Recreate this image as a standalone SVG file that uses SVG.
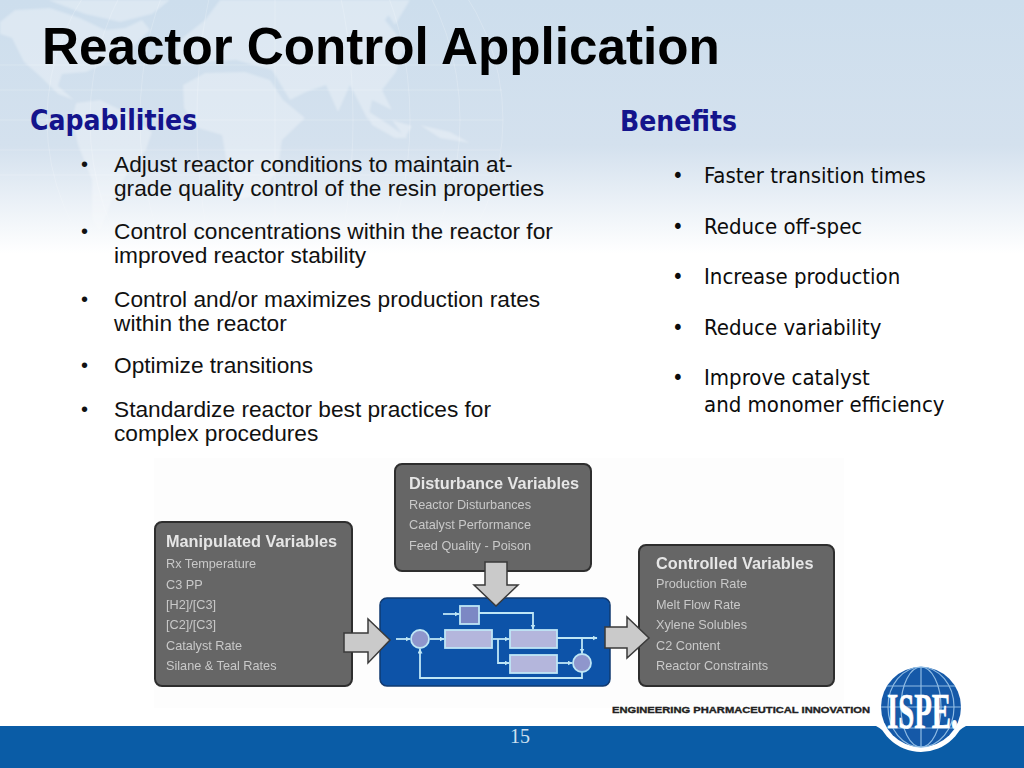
<svg xmlns="http://www.w3.org/2000/svg" width="1024" height="768" viewBox="0 0 1024 768">
<style>
text{font-family:"Liberation Sans",Arial,sans-serif}
.b text{font-size:22.7px;fill:#111}
.b .d{font-size:20px}
.r text{font-family:"DejaVu Sans",sans-serif;font-stretch:condensed;font-size:22px;fill:#0c0c0c}
text.h{font-family:"DejaVu Sans",sans-serif;font-stretch:condensed;font-weight:700;font-size:28px;fill:#14148c}
.box{fill:#666;stroke:#2e2e2e;stroke-width:2}
.bt{font-weight:700;font-size:16.3px;fill:#e6e6e6}
.bi{font-size:12.7px;fill:#c9c9c9}
.arr{fill:#cacaca;stroke:#3a3a3a;stroke-width:1.5}
.ln{fill:none;stroke:#bfe6f5;stroke-width:1.8}
.bl{fill:#b4b6dc;stroke:#bfe6f5;stroke-width:1.8}
.c{fill:#8f96cc;stroke:#bfe6f5;stroke-width:1.8}
</style>
<defs>
<linearGradient id="bg" x1="0" y1="0" x2="0" y2="1"><stop offset="0" stop-color="#cddeed"/><stop offset="0.19" stop-color="#d4e1ee"/><stop offset="0.33" stop-color="#ffffff"/><stop offset="1" stop-color="#ffffff"/></linearGradient>
<linearGradient id="fade" x1="0" y1="0" x2="0" y2="1"><stop offset="0" stop-color="#fff" stop-opacity="1"/><stop offset="0.75" stop-color="#fff" stop-opacity="1"/><stop offset="1" stop-color="#fff" stop-opacity="0"/></linearGradient>
<mask id="mf"><rect width="1024" height="260" fill="url(#fade)"/></mask>
<filter id="s"><feGaussianBlur stdDeviation="0.9"/></filter>
<filter id="t" x="-5%" y="-5%" width="110%" height="110%"><feGaussianBlur stdDeviation="0.35"/></filter>
<marker id="a" markerUnits="userSpaceOnUse" markerWidth="6" markerHeight="6" refX="4.5" refY="2.5" orient="auto"><path d="M0 0L5 2.5L0 5z" fill="#bfe6f5"/></marker>
</defs>
<rect width="1024" height="768" fill="url(#bg)"/>
<g id="map" mask="url(#mf)">
<g fill="#fff" opacity="0.3" filter="url(#s)">
<path d="M0 22L15 10L50 8L80 18L105 30L125 28L142 20L150 30L132 48L108 62L86 72L62 74L58 86L74 100L58 94L42 78L24 62L12 38L0 34z"/>
<path d="M48 0H170L152 14L120 22L85 14z"/>
<path d="M76 103L100 100L125 112L152 132L146 150L128 172L112 200L100 232L92 220L92 180L78 145L72 120z"/>
<path d="M183 85L205 73L245 72L270 80L283 100L305 118L282 140L278 170L258 195L235 200L228 170L222 135L198 128L184 108z"/>
<path d="M170 62L180 40L205 20L220 0H400L385 20L405 45L396 72L382 90L392 110L372 100L368 120L350 85L338 112L326 85L306 92L290 100L272 70L236 60L205 62z"/>
<path d="M363 108L385 122L408 138L395 138L372 125z M392 120L412 126L405 138z M420 125L450 132L470 143L440 138z"/>
<path d="M385 10L400 0H410L395 25z"/>
</g>
<g fill="none" stroke="#fff" stroke-opacity="0.25" stroke-width="0.8">
<ellipse cx="275" cy="120" rx="228" ry="228"/><ellipse cx="275" cy="120" rx="185" ry="228"/><ellipse cx="275" cy="120" rx="135" ry="228"/><ellipse cx="275" cy="120" rx="78" ry="228"/>
<path d="M275 0V250M0 65H500M0 120H503M0 175H495M0 90H502M0 150H500"/>
</g>
</g>
<rect id="panel" x="154" y="458" width="690" height="250" fill="#fdfdfd"/>
<text id="title" x="42" y="64" font-size="51.2" font-weight="700" fill="#000">Reactor Control Application</text>
<g id="cap">
<text x="30" y="130" class="h">Capabilities</text>
<g class="b">
<text class="d" x="81" y="171">•</text><text x="114" y="172">Adjust reactor conditions to maintain at-</text><text x="114" y="196">grade quality control of the resin properties</text>
<text class="d" x="81" y="238">•</text><text x="114" y="239">Control concentrations within the reactor for</text><text x="114" y="263">improved reactor stability</text>
<text class="d" x="81" y="306">•</text><text x="114" y="306.5">Control and/or maximizes production rates</text><text x="114" y="330.5">within the reactor</text>
<text class="d" x="81" y="372">•</text><text x="114" y="373">Optimize transitions</text>
<text class="d" x="81" y="416">•</text><text x="114" y="417">Standardize reactor best practices for</text><text x="114" y="441">complex procedures</text>
</g></g>
<g id="ben">
<text x="620" y="131" class="h">Benefits</text>
<g class="r">
<text x="672" y="183">•</text><text x="704" y="183">Faster transition times</text>
<text x="672" y="234">•</text><text x="704" y="234">Reduce off-spec</text>
<text x="672" y="284">•</text><text x="704" y="284">Increase production</text>
<text x="672" y="335">•</text><text x="704" y="335">Reduce variability</text>
<text x="672" y="385">•</text><text x="704" y="385">Improve catalyst</text><text x="704" y="412">and monomer efficiency</text>
</g></g>
<g filter="url(#t)">
<g id="disturbance"><rect class="box" x="395" y="464" width="196" height="107" rx="7"/>
<text class="bt" x="409" y="489">Disturbance Variables</text>
<text class="bi" x="409" y="509">Reactor Disturbances</text><text class="bi" x="409" y="529">Catalyst Performance</text><text class="bi" x="409" y="550">Feed Quality - Poison</text></g>
<g id="manipulated"><rect class="box" x="155" y="522" width="197" height="164" rx="7"/>
<text class="bt" x="166" y="547">Manipulated Variables</text>
<text class="bi" x="166" y="568">Rx Temperature</text><text class="bi" x="166" y="589">C3 PP</text><text class="bi" x="166" y="609">[H2]/[C3]</text><text class="bi" x="166" y="629">[C2]/[C3]</text><text class="bi" x="166" y="650">Catalyst Rate</text><text class="bi" x="166" y="670">Silane &amp; Teal Rates</text></g>
<g id="controlled"><rect class="box" x="639" y="545" width="195" height="141" rx="7"/>
<text class="bt" x="656" y="569">Controlled Variables</text>
<text class="bi" x="656" y="588">Production Rate</text><text class="bi" x="656" y="609">Melt Flow Rate</text><text class="bi" x="656" y="629">Xylene Solubles</text><text class="bi" x="656" y="650">C2 Content</text><text class="bi" x="656" y="670">Reactor Constraints</text></g>
<g id="reactor"><rect x="380" y="598" width="230" height="88" rx="7" fill="#0a52a8" stroke="#123a70" stroke-width="1.5"/>
<rect class="bl" x="445" y="630" width="47" height="18"/><rect class="bl" x="510" y="630" width="47" height="18"/><rect class="bl" x="510" y="655" width="47" height="18"/>
<rect x="460" y="606" width="19" height="18" fill="#7b88c4" stroke="#bfe6f5" stroke-width="1.8"/>
<circle class="c" cx="420" cy="639" r="9"/><circle class="c" cx="582" cy="663" r="9"/></g>
<g id="connectors">
<path class="ln" marker-end="url(#a)" d="M396 639H410"/>
<path class="ln" marker-end="url(#a)" d="M430 639H444"/>
<path class="ln" marker-end="url(#a)" d="M443 614H459"/>
<path class="ln" marker-end="url(#a)" d="M479 613H533V629"/>
<path class="ln" marker-end="url(#a)" d="M493 639H509"/>
<path class="ln" marker-end="url(#a)" d="M498 639V663H509"/>
<path class="ln" marker-end="url(#a)" d="M557 638H597"/>
<path class="ln" marker-end="url(#a)" d="M582 638V653"/>
<path class="ln" marker-end="url(#a)" d="M557 663H572"/>
<path class="ln" marker-end="url(#a)" d="M582 672V678H420V649"/>
<path class="arr" d="M344 633H368V619L390 640L368 663V652H344z"/>
<path class="arr" d="M605 627H627V617L649 638L627 658V648H605z"/>
<path class="arr" d="M485 562H507V585H518L496 606L474 585H485z"/>
</g>
</g>
<rect id="footer" y="726" width="1024" height="42" fill="#0a5ca6"/>
<text x="520" y="743" text-anchor="middle" font-size="20" fill="#cfe0f0" style="font-family:'Liberation Serif',serif">15</text>
<g id="logo">
<text x="612" y="713" font-size="9.6" font-weight="700" fill="#222" stroke="#222" stroke-width="0.35" textLength="258" lengthAdjust="spacingAndGlyphs">ENGINEERING PHARMACEUTICAL INNOVATION</text>
<path d="M876 726H966Q958 730 954 737L921 745L888 737Q884 730 876 726z" fill="#fff"/>
<circle cx="921" cy="707" r="45" fill="#fff"/>
<circle cx="921" cy="707" r="40" fill="#1559a8"/>
<g fill="none" stroke="#8fbbe3" stroke-width="1.2"><ellipse cx="921" cy="707" rx="20" ry="40"/><ellipse cx="921" cy="707" rx="33" ry="40"/><path d="M921 667V747M887 686H955M881 707H961M887 728H955"/></g>
<text x="887" y="728" font-size="50" font-weight="700" fill="#fff" stroke="#fff" stroke-width="0.7" textLength="71" lengthAdjust="spacingAndGlyphs" style="font-family:'Liberation Serif',serif">ISPE.</text>
</g>
</svg>
